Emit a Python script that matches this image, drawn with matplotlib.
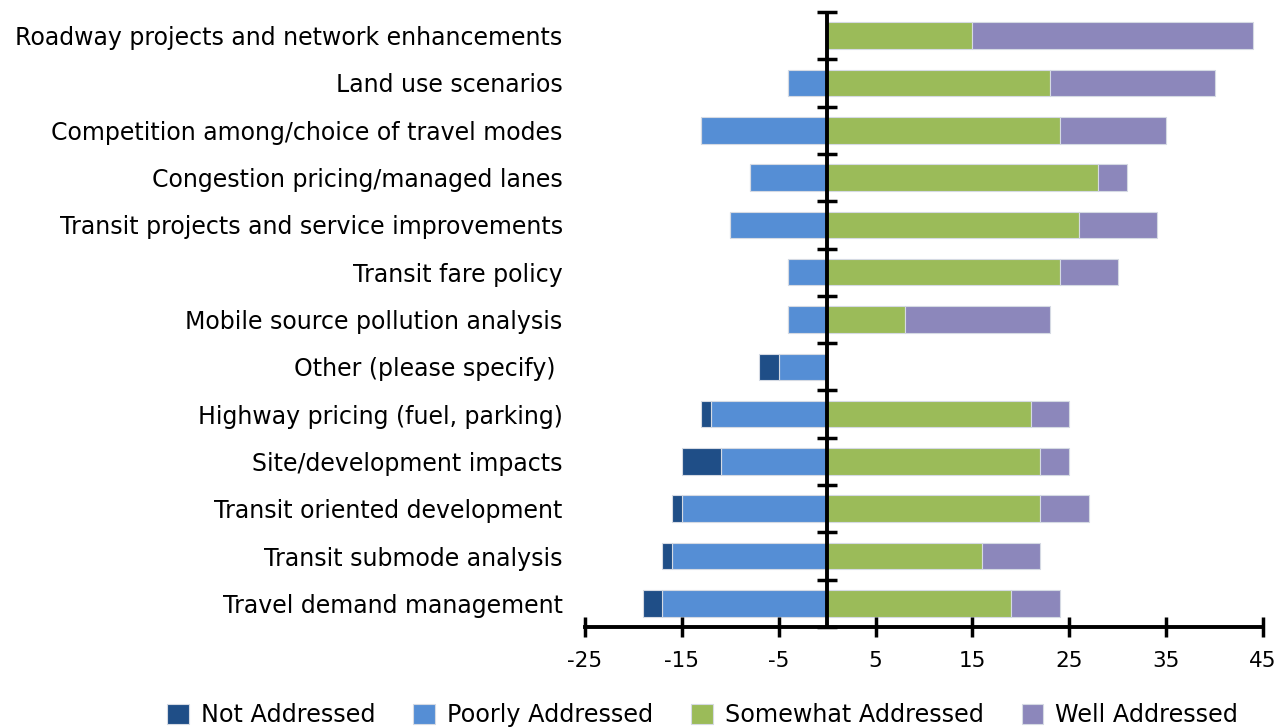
import numpy as np
import matplotlib
matplotlib.use("Agg")
import matplotlib.pyplot as plt

# categories, top to bottom
categories = [
    "Roadway projects and network enhancements",
    "Land use scenarios",
    "Competition among/choice of travel modes",
    "Congestion pricing/managed lanes",
    "Transit projects and service improvements",
    "Transit fare policy",
    "Mobile source pollution analysis",
    "Other (please specify) ",
    "Highway pricing (fuel, parking)",
    "Site/development impacts",
    "Transit oriented development",
    "Transit submode analysis",
    "Travel demand management",
]
not_addressed = [0, 0, 0, 0, 0, 0, 0, 2, 1, 4, 1, 1, 2]
poorly_addressed = [0, 4, 13, 8, 10, 4, 4, 5, 12, 11, 15, 16, 17]
somewhat_addressed = [15, 23, 24, 28, 26, 24, 8, 0, 21, 22, 22, 16, 19]
well_addressed = [29, 17, 11, 3, 8, 6, 15, 0, 4, 3, 5, 6, 5]
xticks = [-25, -15, -5, 5, 15, 25, 35, 45]

c_not = "#1F4E87"
c_poor = "#558ED5"
c_some = "#9BBB59"
c_well = "#8C87BB"

plt.rcParams['font.family'] = ['DejaVu Sans']
fig = plt.figure(figsize=(12.87, 7.27), dpi=100)
ax = fig.add_axes([0.4545, 0.1376, 0.5269, 0.8459])

y = np.arange(len(categories))
nd = np.array(not_addressed)
pa = np.array(poorly_addressed)
sa = np.array(somewhat_addressed)
wa = np.array(well_addressed)
h = 0.56
ec = "#d5dae3"
ax.barh(y, -pa, height=h, color=c_poor, edgecolor=ec, linewidth=0.8, label="Poorly Addressed")
ax.barh(y, -nd, left=-pa, height=h, color=c_not, edgecolor=ec, linewidth=0.8, label="Not Addressed")
ax.barh(y, sa, height=h, color=c_some, edgecolor=ec, linewidth=0.8, label="Somewhat Addressed")
ax.barh(y, wa, left=sa, height=h, color=c_well, edgecolor=ec, linewidth=0.8, label="Well Addressed")

ax.set_xlim(-25, 45)
ax.set_ylim(len(categories) - 0.5, -0.5)
ax.set_xticks(xticks)
ax.set_xticklabels([str(t) for t in xticks], fontsize=15.5)
ax.tick_params(axis='x', direction='inout', length=15, width=2.5, pad=10)

ax.set_yticks(y)
ax.set_yticklabels(categories, fontsize=17)
ax.tick_params(axis='y', length=0, pad=16)

for s in ['top', 'right', 'left']:
    ax.spines[s].set_visible(False)
ax.spines['bottom'].set_linewidth(2.8)

# vertical axis line at zero with category boundary ticks
ax.axvline(0, color='black', linewidth=2.8, zorder=3)
sec = ax.secondary_yaxis(25 / 70)
sec.set_yticks(np.arange(len(categories) + 1) - 0.5)
sec.set_yticklabels([])
sec.tick_params(direction='inout', length=14, width=2.5)
for s in sec.spines.values():
    s.set_visible(False)

handles, labels = ax.get_legend_handles_labels()
order = [1, 0, 2, 3]
fig.legend([handles[i] for i in order], [labels[i] for i in order],
           loc='lower center', bbox_to_anchor=(0.546, -0.03), ncol=4,
           frameon=False, fontsize=17.2, handlelength=0.9, handleheight=0.9,
           handletextpad=0.5, columnspacing=1.6)

fig.savefig("out.png", dpi=100)
